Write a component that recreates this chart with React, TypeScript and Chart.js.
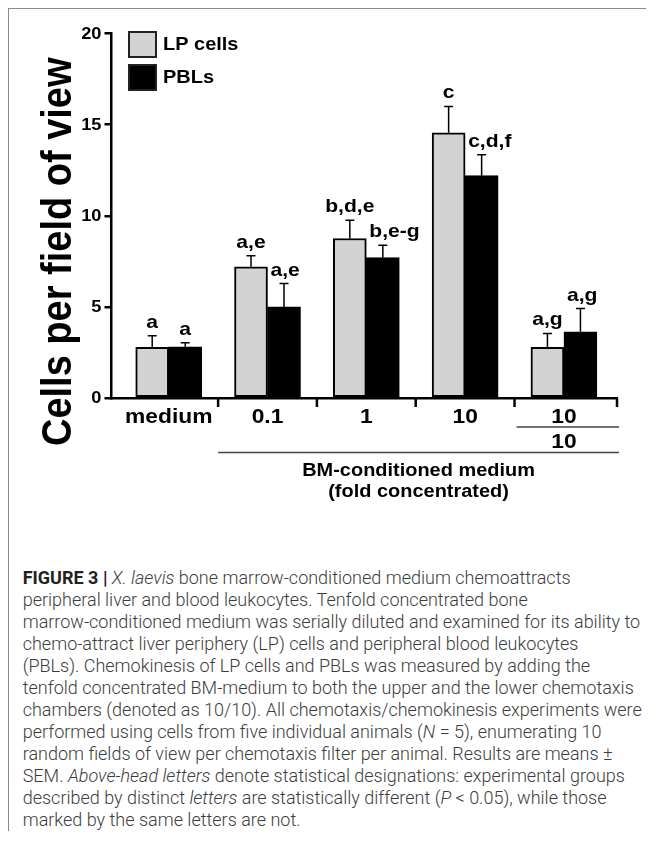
import React, { useEffect, useRef } from "react";
import { Chart, registerables } from "chart.js";

Chart.register(...registerables);

// ---- data ----
const groups = ["medium", "0.1", "1", "10", "10/10"];
const seriesNames = ["LP cells", "PBLs"];
const lpMeans = [2.78, 7.2, 8.75, 14.55, 2.78];
const lpSem = [0.63, 0.6, 1.0, 1.45, 0.76];
const pblMeans = [2.81, 5.0, 7.7, 12.2, 3.63];
const pblSem = [0.22, 1.28, 0.68, 1.15, 1.28];
const lpLetters = ["a", "a,e", "b,d,e", "c", "a,g"];
const pblLetters = ["a", "a,e", "b,e-g", "c,d,f", "a,g"];
const yTicks = [0, 5, 10, 15, 20];
const yTitle = "Cells per field of view";
const bracketTitle = ["BM-conditioned medium", "(fold concentrated)"];

const semSets = [lpSem, pblSem];
const letterSets = [lpLetters, pblLetters];
const fills = ["#d3d3d3", "#000000"];

const FONT = "'Liberation Sans', Arial, Helvetica, sans-serif";
// the figure lettering is a slightly widened bold sans
const WIDEN = 1.14;

function wideText(
  ctx: CanvasRenderingContext2D,
  text: string,
  x: number,
  y: number,
  size: number,
  align: CanvasTextAlign,
  baseline: CanvasTextBaseline = "alphabetic"
) {
  ctx.save();
  ctx.translate(x, y);
  ctx.scale(WIDEN, 1);
  ctx.font = `bold ${size}px ${FONT}`;
  ctx.textAlign = align;
  ctx.textBaseline = baseline;
  ctx.fillStyle = "#000";
  ctx.fillText(text, 0, 0);
  ctx.restore();
}

function wideWidth(ctx: CanvasRenderingContext2D, text: string, size: number) {
  ctx.save();
  ctx.font = `bold ${size}px ${FONT}`;
  const w = ctx.measureText(text).width * WIDEN;
  ctx.restore();
  return w;
}

// error bars and significance letters above each bar
const errorBars = {
  id: "errorBars",
  afterDatasetsDraw(chart: any) {
    const ctx = chart.ctx;
    const y = chart.scales.y;
    chart.data.datasets.forEach((ds: any, di: number) => {
      const meta = chart.getDatasetMeta(di);
      meta.data.forEach((bar: any, i: number) => {
        const mean = ds.data[i].y;
        const top = y.getPixelForValue(mean + semSets[di][i]);
        ctx.save();
        ctx.strokeStyle = "#000";
        ctx.lineWidth = 1.5;
        ctx.beginPath();
        ctx.moveTo(bar.x, bar.y);
        ctx.lineTo(bar.x, top);
        ctx.moveTo(bar.x - 4.5, top);
        ctx.lineTo(bar.x + 4.5, top);
        ctx.stroke();
        ctx.restore();
        const text = letterSets[di][i];
        const w = wideWidth(ctx, text, 18.5);
        let cx = bar.x;
        if (di === 1) cx = Math.max(bar.x, bar.x - bar.width / 2 + w / 2 + 3);
        wideText(ctx, text, cx, top - 8, 18.5, "center");
      });
    });
  },
};

// tick labels, category labels, boundary ticks, bracket, axis title and legend
const decorations = {
  id: "decorations",
  afterDraw(chart: any) {
    const ctx = chart.ctx;
    const x = chart.scales.x;
    const y = chart.scales.y;
    const area = chart.chartArea;
    const bottom = area.bottom;
    ctx.save();
    ctx.strokeStyle = "#000";
    ctx.fillStyle = "#000";

    // y tick labels
    yTicks.forEach((v) => {
      wideText(ctx, String(v), area.left - 10, y.getPixelForValue(v) + 1, 16, "right", "middle");
    });

    // boundary ticks below the x axis
    ctx.lineWidth = 2.5;
    ctx.beginPath();
    for (let i = 0; i < groups.length; i++) {
      const px = i < groups.length - 1 ? x.getPixelForValue(i + 0.5) : area.right;
      ctx.moveTo(px, bottom);
      ctx.lineTo(px, bottom + 9);
    }
    ctx.stroke();

    // category labels
    groups.forEach((g, i) => {
      const cx = x.getPixelForValue(i);
      const parts = g.split("/");
      wideText(ctx, parts[0], cx, bottom + 25, 20, "center");
      if (parts.length > 1) {
        wideText(ctx, parts[1], cx, bottom + 50, 20, "center");
        ctx.strokeStyle = "#444";
        ctx.lineWidth = 1.5;
        ctx.beginPath();
        ctx.moveTo(x.getPixelForValue(i - 0.5) + 2, bottom + 29);
        ctx.lineTo(area.right + 2, bottom + 29);
        ctx.stroke();
      }
    });

    // bracket under the conditioned-medium groups
    const bx0 = x.getPixelForValue(0.5);
    const bx1 = area.right + 2;
    ctx.strokeStyle = "#444";
    ctx.lineWidth = 1.5;
    ctx.beginPath();
    ctx.moveTo(bx0, bottom + 54.5);
    ctx.lineTo(bx1, bottom + 54.5);
    ctx.stroke();
    wideText(ctx, bracketTitle[0], (bx0 + bx1) / 2, bottom + 78, 17.5, "center");
    wideText(ctx, bracketTitle[1], (bx0 + bx1) / 2, bottom + 99, 17.5, "center");

    // y axis title (glyphs widened across the page, like the rest of the lettering)
    ctx.save();
    ctx.translate(area.left - 40.5, (area.top + area.bottom) / 2 + 36);
    ctx.rotate(-Math.PI / 2);
    ctx.scale(1, WIDEN);
    ctx.font = `bold 38px ${FONT}`;
    ctx.textAlign = "center";
    ctx.textBaseline = "alphabetic";
    ctx.fillStyle = "#000";
    ctx.fillText(yTitle, 0, 0);
    ctx.restore();

    // legend
    const lx = area.left + 16.5;
    seriesNames.forEach((name, i) => {
      const top = area.top - 2.5 + i * 33;
      ctx.fillStyle = fills[i];
      ctx.fillRect(lx, top, 29, 27);
      ctx.strokeStyle = "#222";
      ctx.lineWidth = 2;
      ctx.strokeRect(lx + 1, top + 1, 27, 25);
      wideText(ctx, name, lx + 35, top + 14.5, 17.5, "left", "middle");
    });
    ctx.restore();
  },
};

function BarChart() {
  const ref = useRef<HTMLCanvasElement | null>(null);
  useEffect(() => {
    if (!ref.current) return;
    const mk = (means: number[]) => means.map((v, i) => ({ x: i, y: v }));
    const chart = new Chart(ref.current, {
      type: "bar",
      data: {
        datasets: [
          {
            label: seriesNames[0],
            data: mk(lpMeans),
            backgroundColor: fills[0],
            borderColor: "#000",
            borderWidth: 2,
            borderSkipped: false,
            barThickness: 33,
          },
          {
            label: seriesNames[1],
            data: mk(pblMeans),
            backgroundColor: fills[1],
            borderColor: "#000",
            borderWidth: 2,
            borderSkipped: false,
            barThickness: 33,
          },
        ],
      },
      options: {
        responsive: false,
        animation: false,
        events: [],
        layout: { padding: { left: 0, top: 24.5, right: 37, bottom: 126 } },
        plugins: { legend: { display: false }, tooltip: { enabled: false } },
        scales: {
          x: {
            type: "linear",
            min: -0.579,
            max: 4.537,
            offset: false,
            grid: { display: false, drawTicks: false, offset: false },
            border: { display: true, color: "#000", width: 2.5 },
            ticks: { display: false },
            afterBuildTicks: (s: any) => {
              s.ticks = groups.map((_, i) => ({ value: i }));
            },
            afterFit: (s: any) => {
              s.height = 0;
            },
          },
          y: {
            min: 0,
            max: 20,
            afterBuildTicks: (s: any) => {
              s.ticks = yTicks.map((v) => ({ value: v }));
            },
            ticks: { display: false },
            grid: {
              drawOnChartArea: false,
              drawTicks: true,
              tickLength: 7,
              tickWidth: 2.5,
              tickColor: "#000",
              lineWidth: 2.5,
              color: "#000",
            },
            border: { display: true, color: "#000", width: 2.5 },
            afterFit: (s: any) => {
              s.width = 102.5;
            },
          },
        },
      } as any,
      plugins: [errorBars, decorations],
    });
    return () => chart.destroy();
  }, []);
  return <canvas ref={ref} width={645} height={515} style={{ display: "block" }} />;
}

const captionLines: React.ReactNode[] = [
  <>
    <b style={{ fontWeight: 700, color: "#222" }}>FIGURE 3 |</b> <i>X. laevis</i> bone marrow-conditioned medium chemoattracts
  </>,
  <>peripheral liver and blood leukocytes. Tenfold concentrated bone</>,
  <>marrow-conditioned medium was serially diluted and examined for its ability to</>,
  <>chemo-attract liver periphery (LP) cells and peripheral blood leukocytes</>,
  <>(PBLs). Chemokinesis of LP cells and PBLs was measured by adding the</>,
  <>tenfold concentrated BM-medium to both the upper and the lower chemotaxis</>,
  <>chambers (denoted as 10/10). All chemotaxis/chemokinesis experiments were</>,
  <>
    performed using cells from five individual animals (<i>N</i> = 5), enumerating 10
  </>,
  <>random fields of view per chemotaxis filter per animal. Results are means ±</>,
  <>
    SEM. <i>Above-head letters</i> denote statistical designations: experimental groups
  </>,
  <>
    described by distinct <i>letters</i> are statistically different (<i>P</i> &lt; 0.05), while those
  </>,
  <>marked by the same letters are not.</>,
];

export default function App() {
  return (
    <div
      style={{
        borderTop: "1px solid #8a8a8a",
        borderLeft: "1px solid #8a8a8a",
        marginRight: -8,
        background: "#fff",
      }}
    >
      <BarChart />
      <div
        style={{
          paddingTop: 43,
          paddingLeft: 13.7,
          fontFamily: "Roboto, 'Liberation Sans', Arial, sans-serif",
          fontWeight: 300,
          fontSize: 18,
          lineHeight: "22px",
          color: "#3c3c3c",
        }}
      >
        {captionLines.map((line, i) => (
          <div key={i} style={{ whiteSpace: "nowrap" }}>
            {line}
          </div>
        ))}
      </div>
    </div>
  );
}
